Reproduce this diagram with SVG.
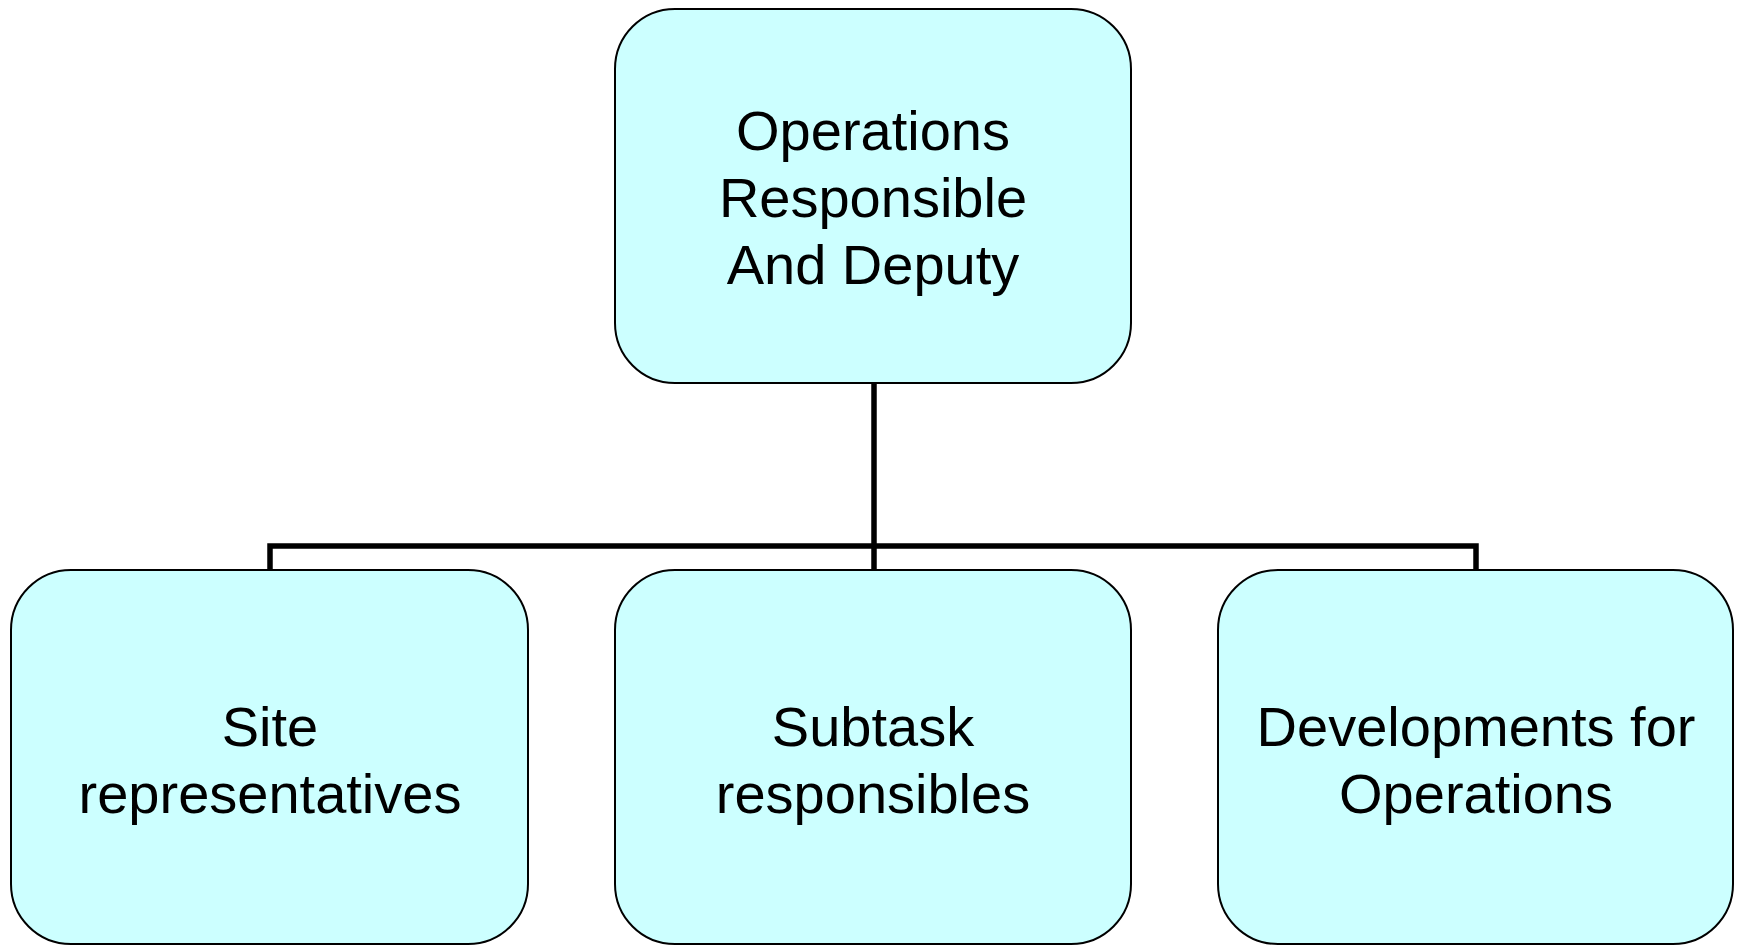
<svg xmlns="http://www.w3.org/2000/svg" width="1739" height="946" viewBox="0 0 1739 946">
<style>
.box{fill:#CCFFFF;stroke:#000;stroke-width:2}
.lbl{font-family:"Liberation Sans",Arial,sans-serif;font-size:56px;fill:#000;text-anchor:middle}
.conn{fill:none;stroke:#000;stroke-width:5.5;stroke-linejoin:miter}
</style>
<rect width="1739" height="946" fill="#fff"/>
<g id="connectors">
<path class="conn" d="M874 383 V546"/>
<path class="conn" d="M270 570 V546 H1476 V570"/>
<path class="conn" d="M874 546 V570"/>
</g>
<g id="node-top">
<rect class="box" x="615" y="9" width="516" height="374" rx="60" ry="60"/>
<text class="lbl" x="873" y="150">Operations</text>
<text class="lbl" x="873" y="217">Responsible</text>
<text class="lbl" x="873" y="284">And Deputy</text>
</g>
<g id="node-site">
<rect class="box" x="11" y="570" width="517" height="374" rx="60" ry="60"/>
<text class="lbl" x="270" y="746">Site</text>
<text class="lbl" x="270" y="813">representatives</text>
</g>
<g id="node-subtask">
<rect class="box" x="615" y="570" width="516" height="374" rx="60" ry="60"/>
<text class="lbl" x="873" y="746">Subtask</text>
<text class="lbl" x="873" y="813">responsibles</text>
</g>
<g id="node-dev">
<rect class="box" x="1218" y="570" width="515" height="374" rx="60" ry="60"/>
<text class="lbl" x="1476" y="746">Developments for</text>
<text class="lbl" x="1476" y="813">Operations</text>
</g>
</svg>
